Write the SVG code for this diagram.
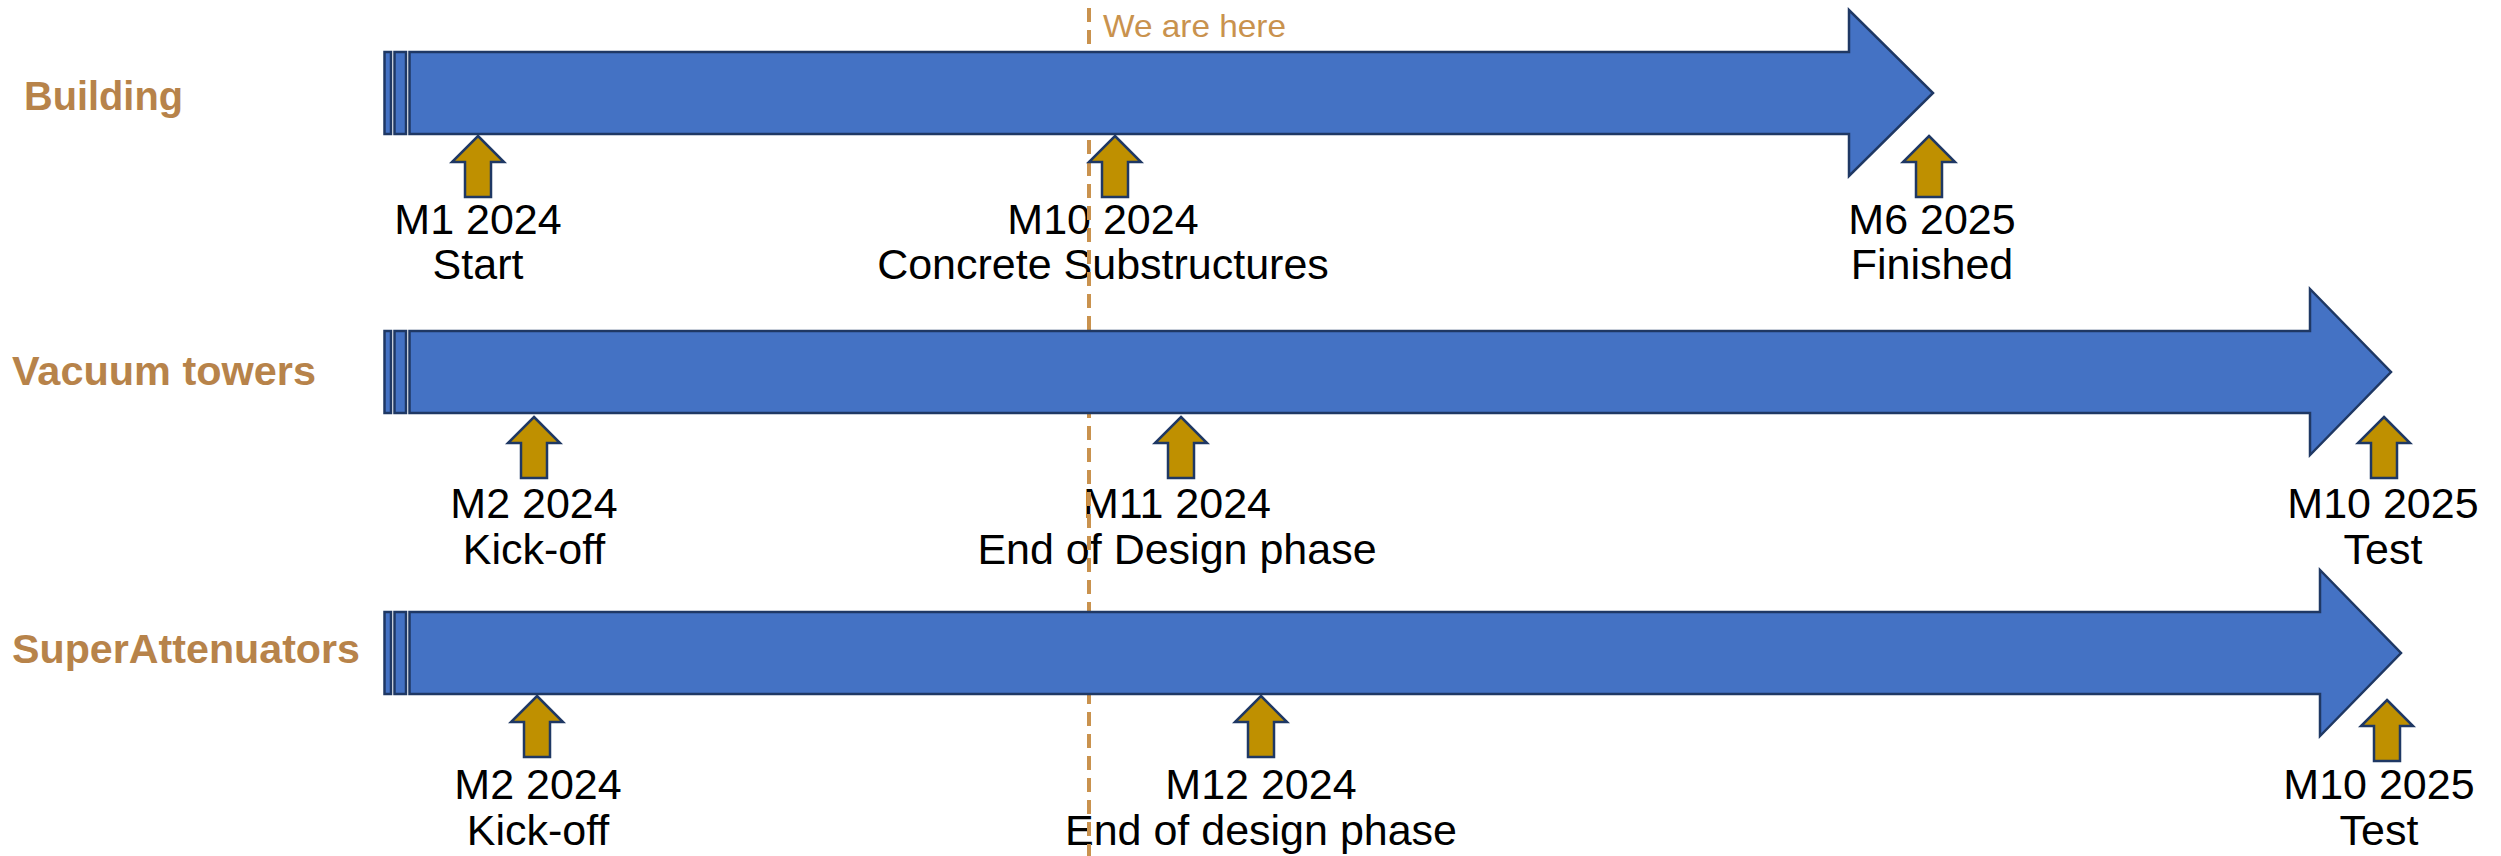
<svg xmlns="http://www.w3.org/2000/svg" width="2501" height="856" viewBox="0 0 2501 856">
  <style>
    .bar { fill: #4472C4; stroke: #1F3864; stroke-width: 2.5; stroke-linejoin: miter; }
    .ms { fill: #BF9000; stroke: #1F3864; stroke-width: 2.5; stroke-linejoin: miter; }
    .lbl { font-family: "Liberation Sans", Arial, sans-serif; font-weight: bold; font-size: 41px; fill: #B7834A; }
    .txt { font-family: "Liberation Sans", Arial, sans-serif; font-size: 43px; fill: #000000; text-anchor: middle; }
    .here { font-family: "Liberation Sans", Arial, sans-serif; font-size: 32px; fill: #C9924E; }
    .dash { stroke: #C9924E; stroke-width: 4; stroke-dasharray: 14 8; fill: none; }
  </style>
  <defs>
    <path id="ms" d="M 0 0 L 26 26 L 13 26 L 13 61 L -13 61 L -13 26 L -26 26 Z"/>
  </defs>

  <!-- Row labels -->
  <g id="label-building"><text class="lbl" x="24" y="110" textLength="159" lengthAdjust="spacingAndGlyphs">Building</text></g>
  <g id="label-vacuum"><text class="lbl" x="12" y="385" textLength="304" lengthAdjust="spacingAndGlyphs">Vacuum towers</text></g>
  <g id="label-super"><text class="lbl" x="12" y="663" textLength="348" lengthAdjust="spacingAndGlyphs">SuperAttenuators</text></g>

  <!-- Milestone texts -->
  <g id="ms-texts">
    <text class="txt" x="478" y="234">M1 2024</text>
    <text class="txt" x="478" y="279">Start</text>
    <text class="txt" x="1103" y="234">M10 2024</text>
    <text class="txt" x="1103" y="279">Concrete Substructures</text>
    <text class="txt" x="1932" y="234">M6 2025</text>
    <text class="txt" x="1932" y="279">Finished</text>

    <text class="txt" x="534" y="518">M2 2024</text>
    <text class="txt" x="534" y="564">Kick-off</text>
    <text class="txt" x="1177" y="518">M11 2024</text>
    <text class="txt" x="1177" y="564">End of Design phase</text>
    <text class="txt" x="2383" y="518">M10 2025</text>
    <text class="txt" x="2383" y="564">Test</text>

    <text class="txt" x="538" y="799">M2 2024</text>
    <text class="txt" x="538" y="845">Kick-off</text>
    <text class="txt" x="1261" y="799">M12 2024</text>
    <text class="txt" x="1261" y="845">End of design phase</text>
    <text class="txt" x="2379" y="799">M10 2025</text>
    <text class="txt" x="2379" y="845">Test</text>
  </g>

  <!-- "We are here" marker -->
  <g id="connectors">
    <line class="dash" x1="1089" y1="8" x2="1089" y2="856"/>
  </g>
  <g id="we-are-here"><text class="here" x="1103" y="37" textLength="183" lengthAdjust="spacingAndGlyphs">We are here</text></g>

  <!-- Timeline bars -->
  <g id="bar-building">
    <rect class="bar" x="384.5" y="52" width="6.5" height="82"/>
    <rect class="bar" x="394.5" y="52" width="11.5" height="82"/>
    <path class="bar" d="M 409.5 52 L 1849 52 L 1849 10 L 1933 93 L 1849 176 L 1849 134 L 409.5 134 Z"/>
  </g>
  <g id="bar-vacuum">
    <rect class="bar" x="384.5" y="331" width="6.5" height="82"/>
    <rect class="bar" x="394.5" y="331" width="11.5" height="82"/>
    <path class="bar" d="M 409.5 331 L 2310 331 L 2310 289 L 2391 372 L 2310 455 L 2310 413 L 409.5 413 Z"/>
  </g>
  <g id="bar-super">
    <rect class="bar" x="384.5" y="612" width="6.5" height="82"/>
    <rect class="bar" x="394.5" y="612" width="11.5" height="82"/>
    <path class="bar" d="M 409.5 612 L 2320 612 L 2320 570 L 2401 653 L 2320 736 L 2320 694 L 409.5 694 Z"/>
  </g>

  <!-- Milestone arrows -->
  <g id="ms-building-m1"><use href="#ms" class="ms" x="478" y="136"/></g>
  <g id="ms-building-m10"><use href="#ms" class="ms" x="1115" y="136"/></g>
  <g id="ms-building-m6"><use href="#ms" class="ms" x="1929" y="136"/></g>
  <g id="ms-vacuum-m2"><use href="#ms" class="ms" x="534" y="417"/></g>
  <g id="ms-vacuum-m11"><use href="#ms" class="ms" x="1181" y="417"/></g>
  <g id="ms-vacuum-m10"><use href="#ms" class="ms" x="2384" y="417"/></g>
  <g id="ms-super-m2"><use href="#ms" class="ms" x="537" y="696"/></g>
  <g id="ms-super-m12"><use href="#ms" class="ms" x="1261" y="696"/></g>
  <g id="ms-super-m10"><use href="#ms" class="ms" x="2387" y="700"/></g>
</svg>
